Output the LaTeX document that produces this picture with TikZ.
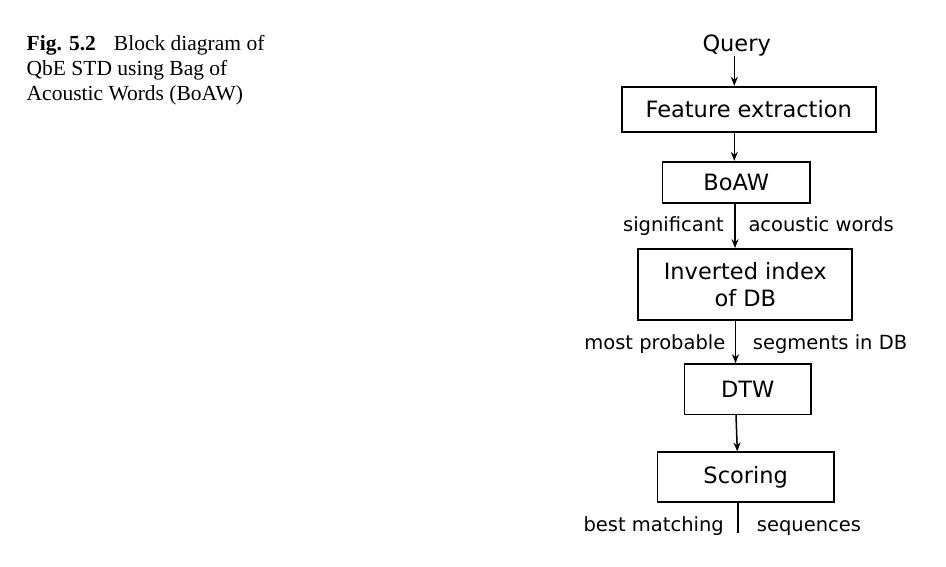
\documentclass[tikz,border=0pt]{standalone}
\usepackage{fontspec}
\setmainfont{Liberation Serif}
\newfontfamily\diagfont{DejaVu Sans}
\usetikzlibrary{arrows.meta,calc}
\begin{document}
\begin{tikzpicture}[x=1pt,y=-1pt,
  blk/.style={draw, line width=1.7pt, inner sep=0pt, font=\diagfont\fontsize{22.5}{27}\selectfont, align=center},
  qtext/.style={inner sep=0pt, font=\diagfont\fontsize{22.5}{27}\selectfont},
  lbl/.style={inner sep=0pt, font=\diagfont\fontsize{19.5}{23}\selectfont},
  captext/.style={inner sep=0pt, anchor=base west, font=\fontsize{21.5}{25}\selectfont},
  arr/.style={line width=1.5pt, -{Stealth[length=9pt,width=7pt]}},
  ln/.style={line width=1.5pt}]
\useasboundingbox (0,0) rectangle (946,566);

% caption
\node[captext] (cap1) at (26.5,50) {\textbf{Fig. 5.2}\hspace{18pt}Block diagram of};
\node[captext] (cap2) at (26.5,75) {QbE STD using Bag of};
\node[captext] (cap3) at (26.5,100) {Acoustic Words (BoAW)};

% blocks
\node[qtext, anchor=base] (query) at (736.7,51) {Query};
\node[blk, minimum width=254pt, minimum height=45.6pt] (fe) at (748.7,109.5) {Feature extraction};
\node[blk, minimum width=147.7pt, minimum height=41.6pt] (boaw) at (736.2,182.5) {BoAW};
\node[blk, minimum width=214pt, minimum height=71pt] (inv) at (745.3,284.5) {Inverted index\\of DB};
\node[blk, minimum width=126.7pt, minimum height=50.3pt] (dtw) at (747.7,389.2) {DTW};
\node[blk, minimum width=176.7pt, minimum height=50pt] (sc) at (745.7,477.3) {Scoring};
\coordinate (out) at (738,533);

% connectors
\draw[arr] ([xshift=-2.4pt]query.south) -- ([xshift=-2.4pt]query.south |- fe.north);
\draw[arr] ([xshift=-1.9pt]boaw.north |- fe.south) -- ([xshift=-1.9pt]boaw.north);
\draw[arr] ([xshift=-1.2pt]boaw.south) -- ([xshift=-1.2pt]boaw.south |- inv.north);
\draw[arr] ([xshift=-9.8pt]inv.south) -- ([xshift=-9.8pt]inv.south |- dtw.north);
\draw[arr] ([xshift=-11.7pt]dtw.south) -- ([xshift=-8.4pt]sc.north);
\draw[ln] (sc.south -| out) -- (out);

% labels
\node[lbl, anchor=base east] (sig) at (724,231.7) {significant};
\node[lbl, anchor=base west] (acw) at (748.3,231.7) {acoustic words};
\node[lbl, anchor=base east] (mp) at (725.5,349) {most probable};
\node[lbl, anchor=base west] (seg) at (752.7,349) {segments in DB};
\node[lbl, anchor=base east] (bm) at (724,531.7) {best matching};
\node[lbl, anchor=base west] (seq) at (756.7,531.7) {sequences};
\end{tikzpicture}
\end{document}
